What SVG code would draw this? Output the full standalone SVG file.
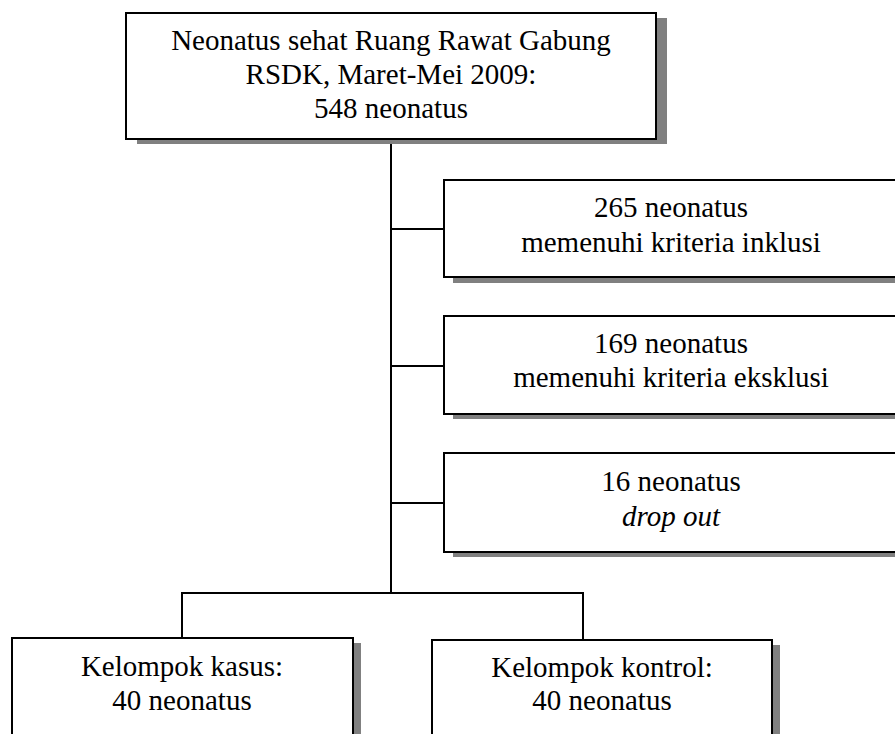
<svg xmlns="http://www.w3.org/2000/svg" width="895" height="734" viewBox="0 0 895 734">
  <style>
    .box { fill: #ffffff; stroke: #000000; stroke-width: 2; }
    .shadow { fill: #808080; stroke: none; }
    .conn { stroke: #000000; stroke-width: 2; fill: none; }
    .lbl { font-size: 29px; fill: #000000; text-anchor: middle; }
    .it { font-style: italic; }
  </style>
  <rect width="895" height="734" fill="#ffffff"/>
  <g id="connectors">
    <line class="conn" x1="391" y1="139" x2="391" y2="594"/>
    <line class="conn" x1="391" y1="229" x2="444" y2="229"/>
    <line class="conn" x1="391" y1="366" x2="444" y2="366"/>
    <line class="conn" x1="391" y1="503" x2="444" y2="503"/>
    <polyline class="conn" points="182,638 182,593 583,593 583,640"/>
  </g>
  <g font-family="'Liberation Serif', 'Times New Roman', serif">
  <g id="node-total">
    <rect class="shadow" x="137" y="18" width="530" height="126"/>
    <rect class="box" x="126" y="13" width="530" height="126"/>
    <text class="lbl" x="391" y="50">Neonatus sehat Ruang Rawat Gabung</text>
    <text class="lbl" x="391" y="84">RSDK, Maret-Mei 2009:</text>
    <text class="lbl" x="391" y="118">548 neonatus</text>
  </g>
  <g id="node-inklusi">
    <rect class="shadow" x="453" y="185" width="460" height="98"/>
    <rect class="box" x="444" y="180" width="456" height="97"/>
    <text class="lbl" x="671" y="217">265 neonatus</text>
    <text class="lbl" x="671" y="252">memenuhi kriteria inklusi</text>
  </g>
  <g id="node-eksklusi">
    <rect class="shadow" x="453" y="321" width="460" height="98"/>
    <rect class="box" x="444" y="316" width="456" height="98"/>
    <text class="lbl" x="671" y="353">169 neonatus</text>
    <text class="lbl" x="671" y="387">memenuhi kriteria eksklusi</text>
  </g>
  <g id="node-dropout">
    <rect class="shadow" x="453" y="458" width="460" height="99"/>
    <rect class="box" x="444" y="453" width="456" height="99"/>
    <text class="lbl" x="671" y="491">16 neonatus</text>
    <text class="lbl it" x="671" y="526">drop out</text>
  </g>
  <g id="node-kasus">
    <rect class="shadow" x="20" y="643" width="341" height="110"/>
    <rect class="box" x="12" y="638" width="341" height="110"/>
    <text class="lbl" x="182" y="676">Kelompok kasus:</text>
    <text class="lbl" x="182" y="710">40 neonatus</text>
  </g>
  <g id="node-kontrol">
    <rect class="shadow" x="440" y="645" width="340" height="110"/>
    <rect class="box" x="432" y="640" width="340" height="110"/>
    <text class="lbl" x="602" y="677">Kelompok kontrol:</text>
    <text class="lbl" x="602" y="710">40 neonatus</text>
  </g>
  </g>
</svg>
